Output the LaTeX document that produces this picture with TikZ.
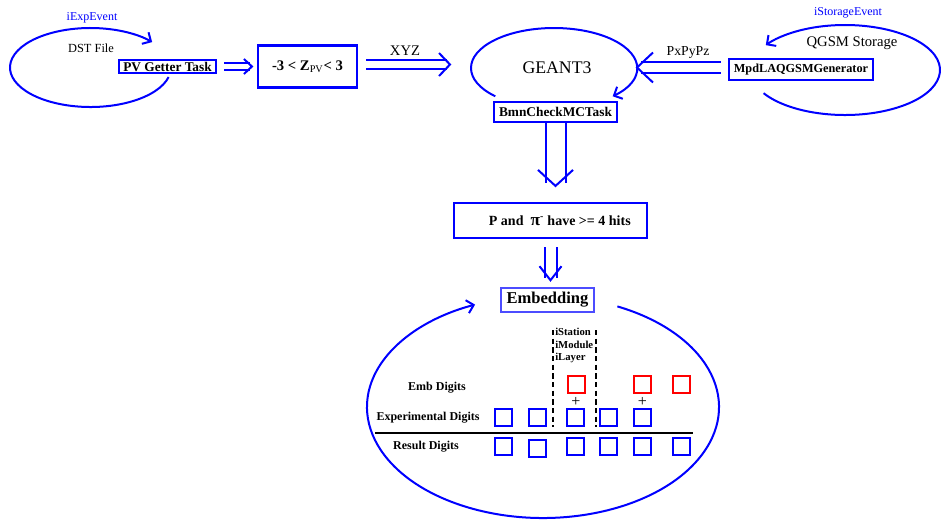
\documentclass[tikz,border=0pt]{standalone}
\usepackage{fontspec}
\setmainfont{Liberation Serif}
\usetikzlibrary{arrows.meta, calc, positioning}

\tikzset{
	evloop/.style={draw=blue, line width=1.5pt, -{Straight Barb[length=5pt, width=10pt]}},
	dbl/.style={draw=blue, line width=1.5pt},
	task/.style={draw=blue, line width=1.6pt, font=\bfseries, inner sep=0pt},
	digit/.style={draw=blue, line width=1.5pt, minimum size=12.75pt, inner sep=0pt},
	embdigit/.style={digit, draw=red},
	lbl/.style={font=\bfseries\fontsize{9}{10}\selectfont}
}

\begin{document}
\begin{tikzpicture}[x=0.75pt, y=0.75pt]
	\useasboundingbox (0,0) rectangle (942,-519);
	
	% centres of the loops
	\coordinate (dstc) at (90.5,-67.5);
	\coordinate (geant) at (554,-68);
	\coordinate (qgsmc) at (845,-70);
	\coordinate (embc) at (543,-407);
	\coordinate (geantW) at (450,-68);
	\coordinate (geantE) at (637,-68);
	
	% left: DST file
	\draw[evloop] ($(dstc)+(-14:80.5 and 39.5)$) arc[start angle=-14, end angle=-320, x radius=80.5, y radius=39.5];
	\node[blue, font=\fontsize{9}{10}\selectfont] (iexp) at (92,-18) {iExpEvent};
	\node[font=\fontsize{9.3}{10}\selectfont] (dst) at (91,-48) {DST File};
	\node[task, font=\bfseries\fontsize{10}{11}\selectfont, minimum width=72.75pt, minimum height=9.75pt] (pv) at (167.5,-66.5) {PV Getter Task};
	\node[task, font=\bfseries\fontsize{11}{12}\selectfont, minimum width=74.25pt, minimum height=31.5pt] (zbox) at (307.5,-66.5) {-3 < Z{\mdseries\textsubscript{PV}}< 3};
	
	% middle: GEANT3
	\draw[evloop] ($(geant)+(225:83 and 40)$) arc[start angle=225, end angle=-45, x radius=83, y radius=40];
	\node[font=\fontsize{13.3}{14}\selectfont] (geanttxt) at (557,-68) {GEANT3};
	\node[task, font=\bfseries\fontsize{10}{11}\selectfont, minimum width=92.25pt, minimum height=15pt] (bmn) at (555.5,-112) {BmnCheckMCTask};
	
	% right: QGSM storage
	\draw[evloop] ($(qgsmc)+(211:95 and 45)$) arc[start angle=211, end angle=506.5, x radius=95, y radius=45];
	\node[blue, font=\fontsize{9}{10}\selectfont] (istor) at (848,-13) {iStorageEvent};
	\node[font=\fontsize{11}{12}\selectfont] (qgsm) at (852,-43) {QGSM Storage};
	\node[task, font=\bfseries\fontsize{9.2}{10}\selectfont, minimum width=108pt, minimum height=15.75pt] (mpd) at (801,-69.5) {MpdLAQGSMGenerator};
	
	% double arrows
	\foreach \s in {3.5,-3.5}
		\draw[dbl] ($(pv.east)+(7,\s)$) -- ($(pv.east -| zbox.west)+(-7,\s)$);
	\draw[dbl] ($(pv.east -| zbox.west)+(-13,7.5)$) -- ($(pv.east -| zbox.west)+(-5,0)$) -- ($(pv.east -| zbox.west)+(-13,-7.5)$);
	
	\foreach \s in {6.5,-2.5}
		\draw[dbl] ($(zbox.east)+(8,\s)$) -- ($(zbox.east -| geantW)+(-3,\s)$);
	\draw[dbl] ($(zbox.east -| geantW)+(-11,13.5)$) -- ($(zbox.east -| geantW)+(0,2)$) -- ($(zbox.east -| geantW)+(-11,-9.5)$);
	\node[font=\fontsize{11}{12}\selectfont] (xyz) at (405,-51) {XYZ};
	
	\foreach \s in {7.5,-3.5}
		\draw[dbl] ($(mpd.west)+(-7,\s)$) -- ($(mpd.west -| geantE)+(4,\s)$);
	\draw[dbl] ($(mpd.west -| geantE)+(16,17)$) -- ($(mpd.west -| geantE)+(0,2)$) -- ($(mpd.west -| geantE)+(16,-13)$);
	\node[font=\fontsize{10.3}{11}\selectfont] (pxpypz) at (688,-52) {PxPyPz};
	
	% selection
	\node[task, font=\bfseries\fontsize{10.5}{12}\selectfont, minimum width=144.75pt, minimum height=26.25pt] (hits) at (550.5,-220.5) {\hspace*{14pt}P and\ \ {\fontsize{13}{13}\selectfont π}\textsuperscript{-} have >= 4 hits};
	\foreach \s in {-10,10}
		\draw[dbl] ($(bmn.south)+(\s,0)$) -- ($(bmn.south |- hits.north)+(\s,19)$);
	\draw[dbl] ($(bmn.south |- hits.north)+(-17.5,32)$) -- ($(bmn.south |- hits.north)+(0,16)$) -- ($(bmn.south |- hits.north)+(17.5,32)$);
	
	\node[task, draw=blue!70, font=\bfseries\fontsize{12.4}{13}\selectfont, line width=1.2pt, minimum width=69.75pt, minimum height=18pt] (emb) at (547.5,-300) {Embedding};
	\foreach \s in {-6,6}
		\draw[dbl] ($(hits.south)+(\s,-8)$) -- ($(hits.south |- emb.north)+(\s,9)$);
	\draw[dbl] ($(hits.south |- emb.north)+(-11,21)$) -- ($(hits.south |- emb.north)+(0,7)$) -- ($(hits.south |- emb.north)+(11,21)$);
	
	% embedding loop
	\draw[evloop] ($(embc)+(65:176 and 111)$) arc[start angle=65, end angle=-247.3, x radius=176, y radius=111];
	
	% station / module / layer column
	\draw[dashed, dash pattern=on 4pt off 2.5pt, line width=0.8pt] (553,-330) -- (553,-427);
	\draw[dashed, dash pattern=on 4pt off 2.5pt, line width=0.8pt] (596,-330) -- (596,-427);
	\node[anchor=north west, align=left, inner sep=0pt, font=\bfseries\fontsize{8}{9.4}\selectfont] (sml) at (555,-328) {iStation\\iModule\\iLayer};
	
	% digits
	\node[lbl] (lemb) at (437,-388) {Emb Digits};
	\node[lbl] (lexp) at (428,-417.5) {Experimental Digits};
	\node[lbl] (lres) at (426,-447) {Result Digits};
	\draw[line width=1pt] (375,-433) -- (693,-433);
	
	\foreach \x [count=\i] in {576,642.5,681.5}
		\node[embdigit] (m\i) at (\x,-384.5) {};
	\foreach \x [count=\i] in {503,537.5,575,608,642.5}
		\node[digit] (e\i) at (\x,-417.5) {};
	\foreach \x/\y [count=\i] in {503/-446.5,537.5/-448.5,575/-446.5,608/-446.5,642.5/-446.5,681.5/-446.5}
		\node[digit] (r\i) at (\x,\y) {};
	\node[font=\fontsize{12}{12}\selectfont, inner sep=0pt] (p1) at (576,-401.5) {+};
	\node[font=\fontsize{12}{12}\selectfont, inner sep=0pt] (p2) at (642.5,-401.5) {+};
\end{tikzpicture}
\end{document}
